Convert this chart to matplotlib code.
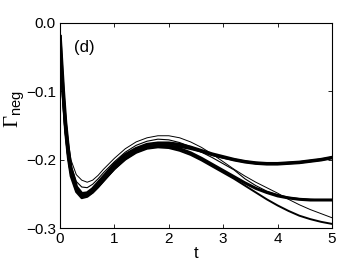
import matplotlib
matplotlib.use("Agg")
import matplotlib.pyplot as plt

t = [0, 0.03, 0.06, 0.1, 0.15, 0.2, 0.3, 0.4, 0.5, 0.6, 0.7, 0.8, 1.0, 1.2, 1.4, 1.6,
     1.8, 2.0, 2.2, 2.4, 2.6, 2.8, 3.0, 3.2, 3.4, 3.6, 3.8, 4.0, 4.2, 4.4, 4.6, 4.8, 5.0]

curve_b = [-0.02, -0.06, -0.10, -0.145, -0.185, -0.213, -0.240, -0.250, -0.249, -0.243, -0.234,
           -0.225, -0.207, -0.193, -0.184, -0.178, -0.176, -0.176, -0.178, -0.182, -0.187,
           -0.192, -0.196, -0.200, -0.203, -0.205, -0.206, -0.206, -0.205, -0.204, -0.202,
           -0.200, -0.197]
curve_c = [-0.02, -0.065, -0.105, -0.150, -0.190, -0.217, -0.243, -0.252, -0.251, -0.246, -0.238,
           -0.229, -0.212, -0.198, -0.188, -0.182, -0.180, -0.181, -0.184, -0.190, -0.198,
           -0.207, -0.216, -0.225, -0.234, -0.242, -0.248, -0.253, -0.256, -0.258, -0.259,
           -0.259, -0.259]
curve_d = [-0.02, -0.07, -0.11, -0.155, -0.195, -0.220, -0.245, -0.254, -0.253, -0.248, -0.240,
           -0.231, -0.214, -0.200, -0.190, -0.184, -0.182, -0.183, -0.187, -0.193, -0.201,
           -0.210, -0.219, -0.228, -0.238, -0.248, -0.258, -0.267, -0.275, -0.282, -0.287,
           -0.291, -0.294]
curve_a = [-0.02, -0.050, -0.088, -0.132, -0.172, -0.200, -0.222, -0.230, -0.233, -0.230, -0.223,
           -0.214, -0.198, -0.184, -0.174, -0.168, -0.165, -0.165, -0.168, -0.174, -0.182,
           -0.192, -0.203, -0.214, -0.224, -0.233, -0.241, -0.249, -0.258, -0.266, -0.273,
           -0.279, -0.285]
curve_e = [-0.02, -0.055, -0.094, -0.138, -0.178, -0.208, -0.232, -0.240, -0.241, -0.236, -0.228,
           -0.219, -0.203, -0.189, -0.179, -0.173, -0.170, -0.171, -0.175, -0.181, -0.189,
           -0.197, -0.206, -0.215, -0.228, -0.238, -0.246, -0.251, -0.255, -0.257, -0.258,
           -0.259, -0.259]
curve_f = [-0.02, -0.072, -0.115, -0.160, -0.198, -0.224, -0.247, -0.256, -0.254, -0.248, -0.240,
           -0.231, -0.213, -0.198, -0.188, -0.182, -0.180, -0.180, -0.181, -0.184, -0.188,
           -0.193, -0.197, -0.200, -0.203, -0.205, -0.206, -0.206, -0.205, -0.204, -0.202,
           -0.200, -0.197]

series = [(curve_b, 2.6), (curve_c, 2.2), (curve_d, 1.4), (curve_f, 1.8),
          (curve_a, 0.7), (curve_e, 0.8)]

xticks = [0, 1, 2, 3, 4, 5]
yticks = [0.0, -0.1, -0.2, -0.3]
yticklabels = ["0.0", "\u22120.1", "\u22120.2", "\u22120.3"]

plt.rcParams['font.family'] = ['Liberation Sans', 'DejaVu Sans']
plt.rcParams['mathtext.fontset'] = 'custom'
plt.rcParams['mathtext.rm'] = 'Liberation Serif'
plt.rcParams['mathtext.sf'] = 'Liberation Sans'
plt.rcParams['mathtext.it'] = 'Liberation Serif:italic'

fig = plt.figure(figsize=(3.49, 2.68), dpi=100)
ax = fig.add_axes([60/349, 1-228/268, 272/349, 205/268])

for ys, lw in series:
    ax.plot(t, ys, color='black', lw=lw, solid_joinstyle='round')

ax.set_xlim(0, 5)
ax.set_ylim(-0.3, 0.0)
ax.set_xticks(xticks)
ax.set_xticklabels([str(x) for x in xticks])
ax.set_yticks(yticks)
ax.set_yticklabels(yticklabels)
ax.tick_params(direction='in', length=3, width=0.6, top=True, right=True,
               labelsize=11, pad=3)
for s in ax.spines.values():
    s.set_linewidth(0.8)

ax.set_xlabel('t', fontsize=12, labelpad=0)
ax.set_ylabel(r'$\mathrm{\Gamma}_{\mathsf{neg}}$', fontsize=15)
ax.yaxis.set_label_coords(-0.12, 0.58)
ax.text(0.05, 0.86, '(d)', transform=ax.transAxes, fontsize=12)

fig.savefig('out.png', dpi=100)
